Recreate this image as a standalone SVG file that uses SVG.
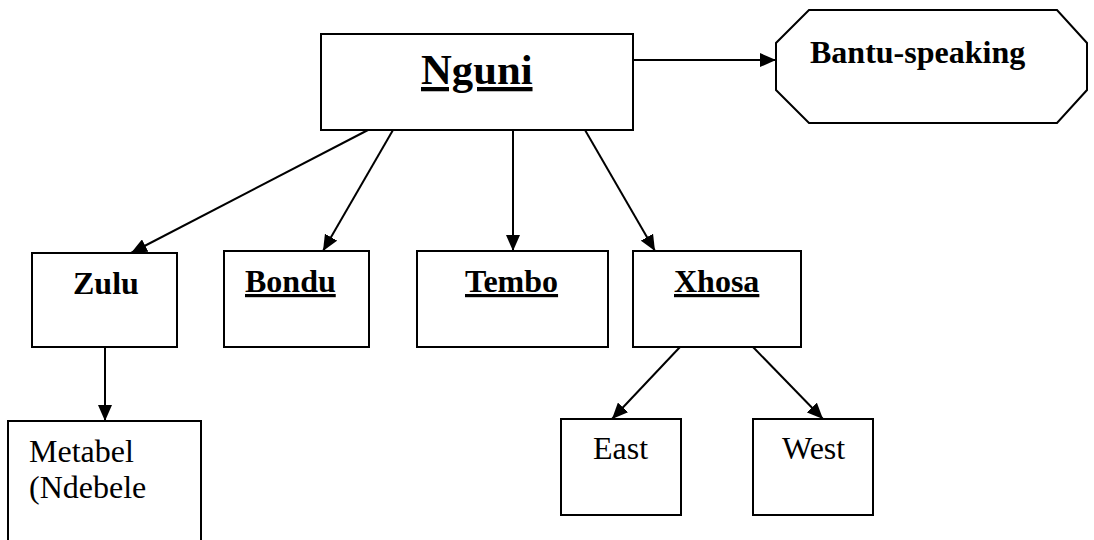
<svg xmlns="http://www.w3.org/2000/svg" width="1094" height="540" viewBox="0 0 1094 540">
<style>
.box{fill:#fff;stroke:#000;stroke-width:2}
.conn{stroke:#000;stroke-width:2;fill:none;marker-end:url(#arrow)}
.b{font-family:"Liberation Serif","Times New Roman",serif;font-weight:bold;font-size:32px;fill:#000}
.r{font-family:"Liberation Serif","Times New Roman",serif;font-size:32px;fill:#000}
.u{text-decoration:underline}
</style>
<defs>
<marker id="arrow" markerUnits="userSpaceOnUse" markerWidth="16" markerHeight="14" refX="16" refY="7" orient="auto">
<path d="M0,0 L16,7 L0,14 Z" fill="#000"/>
</marker>
</defs>
<rect width="1094" height="540" fill="#fff"/>
<g id="connectors">
<line class="conn" x1="633" y1="60" x2="776" y2="60"/>
<line class="conn" x1="368" y1="130" x2="131" y2="253"/>
<line class="conn" x1="393" y1="130" x2="323" y2="251"/>
<line class="conn" x1="513" y1="130" x2="513" y2="251"/>
<line class="conn" x1="585" y1="130" x2="655" y2="251"/>
<line class="conn" x1="105" y1="347" x2="105" y2="421"/>
<line class="conn" x1="680" y1="347" x2="612" y2="419"/>
<line class="conn" x1="753" y1="347" x2="823" y2="419"/>
</g>
<g id="nguni">
<rect class="box" x="321" y="34" width="312" height="96"/>
<text class="b u" x="421" y="84" style="font-size:42.7px">Nguni</text>
</g>
<g id="bantu">
<polygon class="box" points="809,10 1057,10 1087,43 1087,90 1057,123 809,123 776,90 776,43"/>
<text class="b" x="810" y="63">Bantu-speaking</text>
</g>
<g id="zulu">
<rect class="box" x="32" y="253" width="145" height="94"/>
<text class="b" x="73" y="294">Zulu</text>
</g>
<g id="bondu">
<rect class="box" x="224" y="251" width="145" height="96"/>
<text class="b u" x="245" y="292">Bondu</text>
</g>
<g id="tembo">
<rect class="box" x="417" y="251" width="191" height="96"/>
<text class="b u" x="465" y="292">Tembo</text>
</g>
<g id="xhosa">
<rect class="box" x="633" y="251" width="168" height="96"/>
<text class="b u" x="674" y="292">Xhosa</text>
</g>
<g id="metabel">
<rect class="box" x="8" y="421" width="193" height="130"/>
<text class="r" x="29" y="462">Metabel</text>
<text class="r" x="29" y="498">(Ndebele</text>
</g>
<g id="east">
<rect class="box" x="561" y="419" width="120" height="96"/>
<text class="r" x="593" y="459">East</text>
</g>
<g id="west">
<rect class="box" x="753" y="419" width="120" height="96"/>
<text class="r" x="782" y="459">West</text>
</g>
</svg>
